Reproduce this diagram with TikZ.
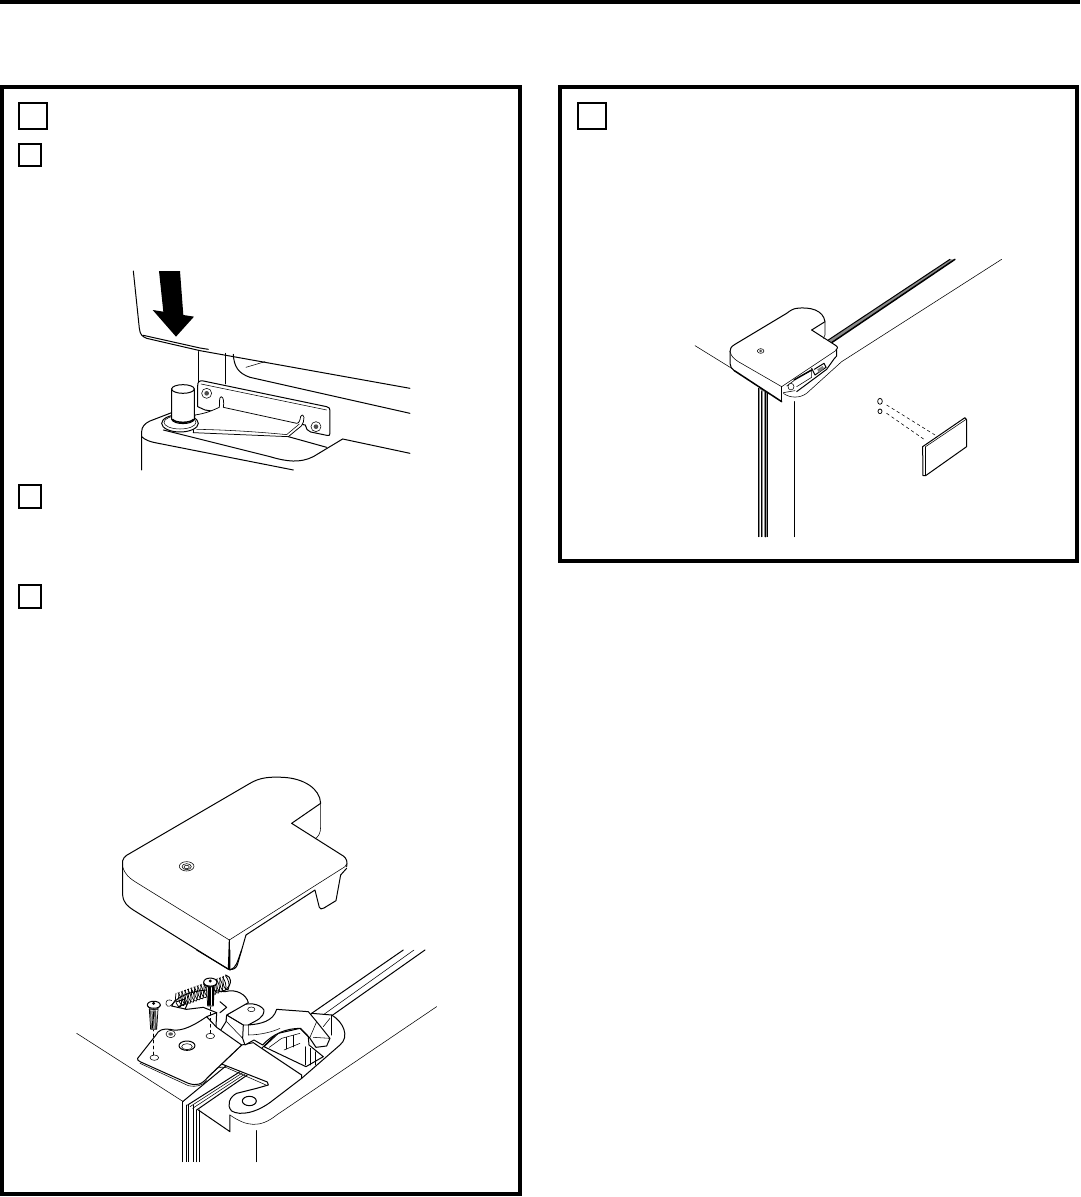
\documentclass[tikz,border=0pt]{standalone}
\tikzset{
  frm/.style={draw=black,line width=4pt,fill=none},
  sq/.style={draw=black,line width=2.6pt,fill=none},
  ln/.style={draw=black,line width=1pt,line cap=round,line join=round},
  hv/.style={draw=black,line width=1.5pt,line cap=round,line join=round},
  md/.style={draw=black,line width=0.75pt,line cap=round,line join=round},
  th/.style={draw=black,line width=0.55pt,line cap=round,line join=round},
  w/.style={fill=white},
  zs/.style={shift={(#1)},x=0.3333pt,y=-0.3333pt}
}
\begin{document}
\begin{tikzpicture}[x=1pt,y=-1pt]
\useasboundingbox (0,0) rectangle (1080,1197);
\fill[white] (0,0) rectangle (1080,1197);
\fill[black] (0,0) rectangle (1080,4);
\draw[frm] (2,87) rectangle (520,1194);
\draw[frm] (560,87) rectangle (1077,561);
\draw[sq] (19,103) rectangle (47,129);
\draw[sq] (19,144) rectangle (41,166);
\draw[sq] (19,485) rectangle (41,508);
\draw[sq] (19,585) rectangle (41,608);
\draw[sq] (578,103) rectangle (606,129);

% ---------- first figure
\begin{scope}[zs={100,260}]
\path[ln] (100,33) -- (118,205) .. controls (120,225) and (128,230) .. (140,235) -- (300,272) -- (930,385);
\path[ln] (130,226) -- (300,264) -- (325,268);
\fill[black] (177,33) -- (240,33) -- (250,165) -- (282,170) -- (228,230) -- (158,150) -- (190,155) -- cycle;
\path[ln] (297,275) -- (297,440);
\path[ln] (376,280) -- (376,372);
\path[ln] (400,283) .. controls (402,320) and (415,340) .. (450,352) -- (930,460);
\path[th] (438,322) -- (495,305);
% plate
\path[ln,w] (293,440) -- (293,378) .. controls (293,365) and (298,361) .. (310,363) -- (680,440) .. controls (688,442) and (690,445) .. (690,452) -- (690,520) .. controls (690,527) and (687,528) .. (680,526) -- (632,516) .. controls (622,514) and (618,505) .. (616,495) -- (315,450) -- cycle;
\path[th] (303,372) -- (680,450);
\draw[th,w] (320,400) circle[radius=15];
\fill[black!70] (320,400) circle[radius=7];
\draw[th,w] (648,500) circle[radius=15];
\fill[black!70] (648,500) circle[radius=7];
% body
\path[ln] (125,630) -- (125,515) .. controls (125,500) and (135,490) .. (150,483) -- (215,458);
\path[ln] (125,530) .. controls (135,540) and (150,545) .. (165,548) -- (580,630);
\path[ln] (190,510) -- (510,590) .. controls (560,605) and (600,610) .. (640,590) -- (728,537) -- (930,580);
\path[ln] (565,530) -- (680,562);
% hinge arm
\path[md,w] (285,465) .. controls (320,460) and (340,450) .. (358,442) .. controls (360,425) and (356,412) .. (364,410) .. controls (372,412) and (372,430) .. (370,442) -- (590,490) .. controls (598,490) and (600,480) .. (602,470) .. controls (606,462) and (612,465) .. (612,472) .. controls (612,482) and (610,490) .. (604,498) -- (565,530) -- (280,518) -- cycle;
\path[th] (290,508) .. controls (400,510) and (500,518) .. (560,524) -- (598,492);
\draw[ln,w] (240,490) ellipse[x radius=55,y radius=26];
\draw[th] (240,487) ellipse[x radius=48,y radius=20];
% pin
\path[ln,w] (215,387) -- (215,478) .. controls (220,495) and (278,495) .. (283,478) -- (283,387) -- cycle;
\draw[ln,w] (249,387) ellipse[x radius=34,y radius=13];
\path[hv] (218,478) .. controls (225,490) and (273,490) .. (280,478);
\end{scope}

% ---------- cap (second figure)
\begin{scope}[zs={100,770}]
\path[ln] (68,285) -- (68,375) .. controls (70,400) and (85,410) .. (100,420) -- (385,598) -- (388,510);
\path[ln] (68,285) .. controls (65,265) and (75,258) .. (90,250) -- (450,40) .. controls (480,22) and (510,20) .. (550,22) .. controls (610,25) and (660,55) .. (662,100) -- (575,160) -- (730,258) .. controls (740,265) and (743,275) .. (740,290);
\path[th] (68,290) .. controls (75,315) and (90,325) .. (105,335) -- (388,510) -- (735,290) -- (740,282);
\path[th] (662,100) -- (662,170) .. controls (662,190) and (655,200) .. (645,207);
\path[ln] (388,598) .. controls (400,600) and (408,595) .. (412,585) -- (438,495) -- (645,360) -- (658,412) .. controls (660,418) and (665,418) .. (672,414) -- (708,392) -- (722,315) -- (740,295);
\path[th] (388,510) -- (388,598);
\draw[th] (260,289) ellipse[x radius=22,y radius=14];
\draw[th] (260,290) ellipse[x radius=14,y radius=9];
\draw[th] (260,291) ellipse[x radius=8,y radius=5];
\end{scope}

% ---------- hinge (second figure)
\begin{scope}[zs={60,950}]
\path[ln] (410,0) -- (510,60) -- (510,0);
\path[ln] (510,60) .. controls (530,52) and (530,40) .. (545,0);
\path[th] (50,250) -- (370,455);
\path[th] (1130,170) -- (650,495) .. controls (600,535) and (560,530) .. (510,495);
\path[ln] (590,542) -- (590,635);
% rails
\path[ln] (755,190) -- (1030,0);
\path[th] (775,205) -- (1062,0);
\path[ln] (790,215) -- (1095,0);
\path[ln] (368,455) -- (368,635);
\foreach \xx in {378,385,400} \path[th] (\xx,465) -- (\xx,635);
\foreach \xx in {410,418} \path[ln] (\xx,480) -- (\xx,635);
\path[ln] (368,455) -- (580,280);
\path[ln] (383,465) -- (548,360);
\path[th] (390,470) -- (553,365);
\path[th] (398,475) -- (558,370);
\path[ln] (410,480) -- (562,375);
\path[ln] (415,480) -- (510,545) -- (510,495);
% cavity
\path[ln,w] (815,195) .. controls (850,215) and (870,260) .. (840,285) -- (725,385) -- (605,295) -- (660,240) -- (720,230) -- (755,190) -- cycle;
\path[ln] (612,290) -- (655,250) -- (720,235) -- (745,260) -- (747,285) -- (790,320) -- (738,350) -- cycle;
\path[th] (628,292) -- (665,265) -- (720,250);
\foreach \xx/\yy in {680/262,700/256} \path[th] (\xx,\yy) -- (\xx,{\yy+35});
\path[th] (672,300) -- (720,280);
\foreach \xx/\yy in {735/290,750/295,765/305} \path[th] (\xx,\yy) -- (\xx,345);
\path[ln] (815,195) -- (815,255);
\path[th] (790,230) -- (810,205);
% hinge base
\path[ln,w] (545,285) -- (580,278) -- (605,295) -- (725,375) -- (725,385) -- (640,450) .. controls (590,490) and (540,498) .. (515,483) .. controls (498,465) and (510,440) .. (530,430) -- (590,415) -- (625,405) -- (622,396) -- (485,342) .. controls (465,345) and (450,360) .. (440,385) -- cycle;
\draw[ln,w] (568,453) ellipse[x radius=21,y radius=14];
\path[th] (452,372) .. controls (462,355) and (480,348) .. (500,353) -- (618,405);
% catch
\path[ln,w] (500,195) -- (540,170) .. controls (560,155) and (600,160) .. (612,180) .. controls (612,205) and (590,210) .. (565,225) .. controls (600,222) and (640,215) .. (650,178) -- (745,185) -- (770,215) -- (810,265) -- (800,288) -- (768,292) -- (748,262) -- (722,235) .. controls (680,235) and (640,250) .. (608,285) -- (582,270) -- (555,285) -- (548,265) -- (550,225) -- cycle;
\path[th] (565,225) -- (565,255) .. controls (600,255) and (640,245) .. (660,235);
\path[th] (500,195) -- (500,215) -- (548,265);
\path[th] (500,195) -- (550,225) -- (565,225);
\path[th] (770,215) -- (750,262);
\path[th] (810,265) -- (760,262);
\draw[th] (574,178) ellipse[x radius=11,y radius=7];
% bracket
\path[ln,w] (335,168) .. controls (345,145) and (380,125) .. (440,120) -- (495,125) .. controls (530,115) and (560,135) .. (565,158) -- (500,195) -- (498,215) -- (478,247) -- (468,232) -- (470,188) -- (430,172) -- (380,178) -- cycle;
\path[ln] (385,155) -- (375,178);
\path[ln] (480,188) -- (500,172) -- (480,155);
\path[ln] (440,200) -- (470,188);
% latch plate
\path[ln,w] (233,325) -- (288,255) .. controls (295,240) and (310,235) .. (330,238) .. controls (355,245) and (385,238) .. (440,200) -- (470,232) -- (545,285) -- (445,380) .. controls (425,405) and (410,408) .. (385,400) -- (240,335) .. controls (233,332) and (232,328) .. (233,325) -- cycle;
\path[th] (240,340) -- (385,407) .. controls (410,412) and (425,407) .. (440,392);
\draw[ln] (381,287) ellipse[x radius=24,y radius=14];
\draw[th] (381,290) ellipse[x radius=16,y radius=9];
\draw[th] (332,252) ellipse[x radius=14,y radius=11];
\fill[black!65] (332,252) ellipse[x radius=7,y radius=5];
\draw[th] (451,258) ellipse[x radius=13,y radius=8];
\draw[th] (283,323) ellipse[x radius=13,y radius=8];
\path[th,dashed] (451,250) -- (451,170);
\path[th,dashed] (280,315) -- (280,240);
% spring
\path[th] (345,150) .. controls (335,170) and (322,175) .. (318,162) .. controls (316,148) and (330,148) .. (335,152);
\path[ln] (355,170) -- (378,160) -- (372,148) -- (350,155);
\foreach \k in {0,1,...,15} {
  \path[md] ({348+\k*9.5},{130-\k*3.4}) .. controls ({342+\k*9.5},{150-\k*3.4}) and ({352+\k*9.5},{175-\k*3.4}) .. ({362+\k*9.5},{170-\k*3.4}) .. controls ({370+\k*9.5},{155-\k*3.4}) and ({360+\k*9.5},{135-\k*3.4}) .. ({354+\k*9.5},{128-\k*3.4});
}
\path[ln] (497,75) .. controls (515,80) and (518,100) .. (497,120);
% screws
\path[md,w] (268,178) -- (272,238) -- (290,238) -- (294,178) -- cycle;
\foreach \d in {0,4,8,12,15} \path[md] ({272+\d},182) -- ({274+\d},236);
\path[ln,w] (262,165) .. controls (262,150) and (300,150) .. (301,165) .. controls (301,178) and (262,178) .. (262,165) -- cycle;
\path[th] (262,166) .. controls (265,183) and (298,183) .. (301,166);
\fill[black] (281,160) circle[radius=5];
\path[md,w] (440,110) -- (443,168) -- (460,168) -- (463,110) -- cycle;
\foreach \d in {0,4,8,12,15} \path[md] ({444+\d},112) -- ({444+\d},166);
\path[ln,w] (431,97) .. controls (431,80) and (471,80) .. (471,97) .. controls (471,112) and (431,112) .. (431,97) -- cycle;
\path[th] (431,98) .. controls (434,116) and (468,116) .. (471,98);
\fill[black] (451,93) circle[radius=5];
\end{scope}

% ---------- right figure
\begin{scope}[zs={680,250}]
\path[th] (45,287) -- (160,358);
\path[th] (965,28) -- (485,335) -- (380,430) .. controls (360,445) and (330,445) .. (310,430);
\path[ln] (343,455) -- (343,860);
\fill[black!45] (445,270) -- (810,28) -- (825,28) -- (455,278) -- cycle;
\path[ln] (445,270) -- (810,28);
\path[hv] (455,278) -- (825,28);
\fill[black!45] (236,415) rectangle (262,860);
\path[ln] (236,415) -- (236,860);
\path[th,draw=white] (240,420) -- (240,860);
\path[ln] (245,425) -- (245,860);
\path[hv,draw=white,line width=0.6pt] (251,425) -- (251,860);
\path[hv] (257,425) -- (257,860);
\path[ln] (262,430) -- (262,860);
% lens beneath cap
\fill[white] (470,300) -- (465,325) -- (440,360) -- (345,430) -- (310,430) -- (305,410) -- cycle;
\path[ln] (470,300) -- (470,318) -- (462,327) -- (440,358) -- (350,425);
\path[th] (310,428) -- (345,422);
\path[hv] (342,390) -- (395,360);
\path[th] (320,408) -- (342,392);
\path[th] (350,410) -- (395,382) -- (395,360);
\path[ln] (395,355) -- (405,375) -- (438,352);
\path[ln] (403,358) -- (432,340) -- (438,352);
\fill[black!50] (412,358) -- (428,348) -- (432,355) -- (416,368) -- cycle;
\draw[th,w] (333,410) ellipse[x radius=9,y radius=10];
% cap
\path[w] (150,305) -- (150,340) .. controls (150,350) and (155,356) .. (163,362) -- (305,455) -- (305,410) -- (468,300) .. controls (475,293) and (473,290) .. (465,285) -- (395,240) -- (435,215) .. controls (430,180) and (390,170) .. (350,175) .. controls (340,176) and (330,182) .. (320,190) -- (165,283) .. controls (152,290) and (150,298) .. (150,305) -- cycle;
\path[ln] (150,305) -- (150,340) .. controls (150,350) and (155,356) .. (163,362);
\path[hv] (163,362) -- (305,455);
\path[ln] (305,410) -- (305,455);
\path[ln] (468,300) .. controls (475,293) and (473,290) .. (465,285) -- (395,240);
\path[ln] (150,305) .. controls (150,298) and (152,290) .. (165,283) -- (320,190) .. controls (330,182) and (340,176) .. (350,175) .. controls (390,170) and (430,180) .. (435,215) -- (395,240);
\path[th] (150,305) .. controls (155,320) and (160,325) .. (175,335) -- (305,410) -- (470,300);
\path[th] (435,215) -- (435,255) -- (430,265);
\draw[th] (242,303) ellipse[x radius=10,y radius=7];
\fill[black!70] (242,303) ellipse[x radius=5,y radius=4];
% plate and fasteners
\path[ln,w] (728,590) -- (855,503) -- (860,510) -- (860,590) -- (737,677) -- (729,677) -- cycle;
\path[th] (737,590) -- (860,507);
\path[th] (737,590) -- (737,677);
\path[th,dashed] (620,465) -- (765,555);
\path[th,dashed] (620,490) -- (735,570);
\draw[md] (600,454) ellipse[x radius=7,y radius=9];
\draw[md] (600,484) ellipse[x radius=6,y radius=7];
\end{scope}
\end{tikzpicture}
\end{document}
